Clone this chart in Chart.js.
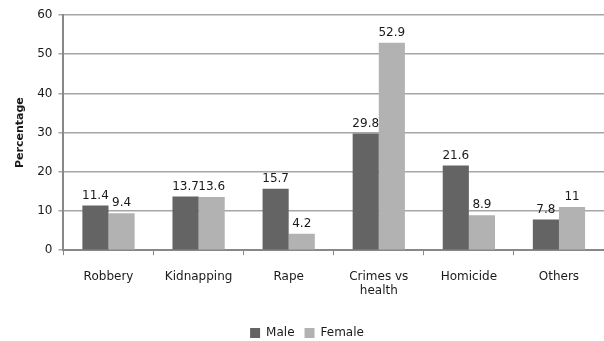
<!DOCTYPE html>
<html>
<head>
<meta charset="utf-8">
<script src="https://cdn.jsdelivr.net/npm/chart.js@4"></script>
<style>
  body { margin: 0; background: #fff; }
  #wrap { width: 604px; height: 341px; }
</style>
</head>
<body>
<div id="wrap"><canvas id="chart"></canvas></div>
<script>
const categories = ['Robbery', 'Kidnapping', 'Rape', ['Crimes vs', 'health'], 'Homicide', 'Others'];
const maleValues = [11.4, 13.7, 15.7, 29.8, 21.6, 7.8];
const femaleValues = [9.4, 13.6, 4.2, 52.9, 8.9, 11];
const yTicks = [0, 10, 20, 30, 40, 50, 60];

// draws the value above each bar
const valueLabels = {
    id: 'valueLabels',
    afterDatasetsDraw(chart) {
        const ctx = chart.ctx;
        ctx.save();
        ctx.font = '12px "DejaVu Sans"';
        ctx.fillStyle = '#1a1a1a';
        ctx.textAlign = 'center';
        ctx.textBaseline = 'bottom';
        chart.data.datasets.forEach((ds, i) => {
            chart.getDatasetMeta(i).data.forEach((bar, j) => {
                ctx.fillText(ds.data[j], bar.x, bar.y - 4);
            });
        });
        ctx.restore();
    }
};

let ctx = document.getElementById('chart').getContext('2d');
let chart = new Chart(ctx, {
    type: 'bar',
    data: {
        labels: categories,
        datasets: [{
            label: 'Male',
            data: maleValues,
            backgroundColor: '#646464',
            barPercentage: 1,
            categoryPercentage: 0.58
        }, {
            label: 'Female',
            data: femaleValues,
            backgroundColor: '#b2b2b2',
            barPercentage: 1,
            categoryPercentage: 0.58
        }]
    },
    options: {
        responsive: true,
        maintainAspectRatio: false,
        animation: false,
        layout: { padding: { top: 15, right: 0, left: 10, bottom: -8 } },
        plugins: {
            legend: {
                position: 'bottom',
                labels: {
                    boxWidth: 10,
                    boxHeight: 10,
                    padding: 10,
                    color: '#1a1a1a',
                    font: { family: 'DejaVu Sans', size: 12 }
                }
            },
            tooltip: { enabled: false }
        },
        scales: {
            x: {
                afterFit(scale) {
                    scale.height += 5;
                },
                grid: {
                    drawOnChartArea: false,
                    drawTicks: true,
                    tickLength: 5,
                    color: '#888888'
                },
                border: { color: '#888888', width: 2 },
                ticks: {
                    color: '#1a1a1a',
                    padding: 14,
                    font: { family: 'DejaVu Sans', size: 12 },
                    maxRotation: 0
                }
            },
            y: {
                min: 0,
                max: 60,
                afterBuildTicks(axis) {
                    axis.ticks = yTicks.map(v => ({ value: v }));
                },
                grid: {
                    color: '#a6a6a6',
                    tickLength: 5,
                    lineWidth: 1.5
                },
                border: { color: '#888888', width: 2 },
                ticks: {
                    color: '#1a1a1a',
                    padding: 6,
                    font: { family: 'DejaVu Sans', size: 12 }
                },
                title: {
                    display: true,
                    text: 'Percentage',
                    color: '#1a1a1a',
                    font: { family: 'DejaVu Sans', size: 11, weight: 'bold' }
                }
            }
        }
    },
    plugins: [valueLabels]
});
</script>
</body>
</html>
